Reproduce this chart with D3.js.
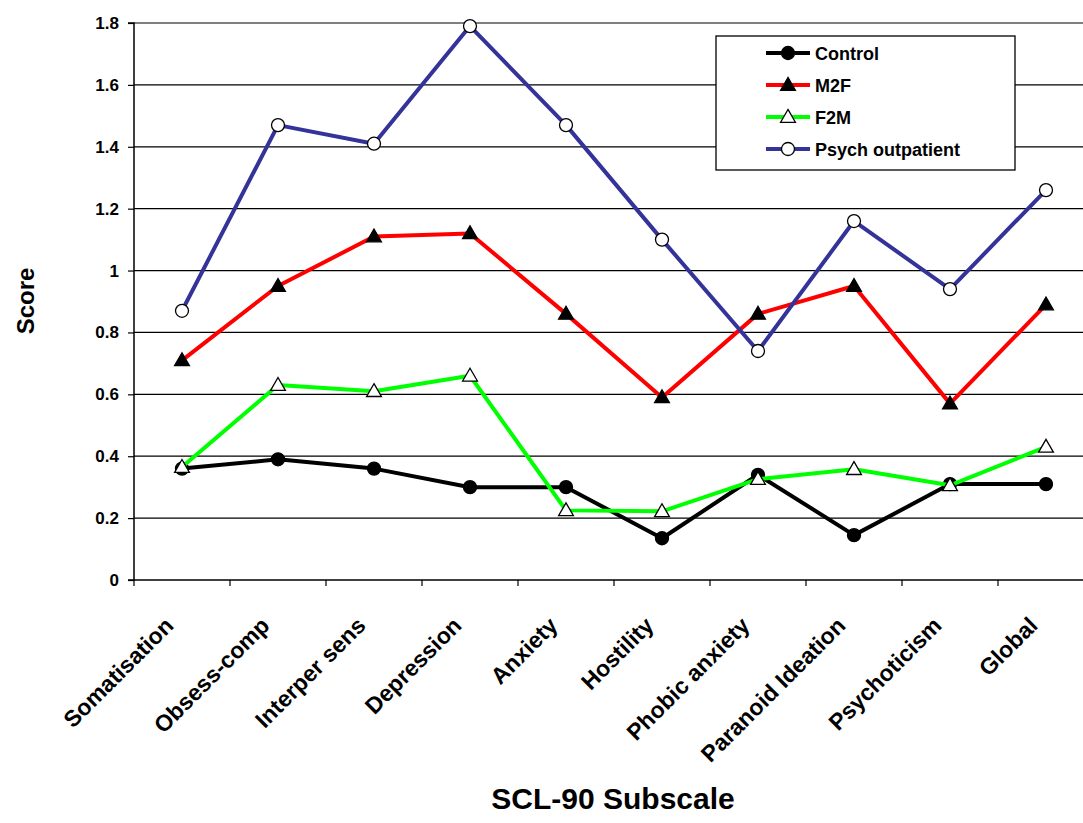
<!DOCTYPE html>
<html><head><meta charset="utf-8">
<script src="https://cdn.jsdelivr.net/npm/d3@7"></script>
<style>body{margin:0;background:#fff}svg{display:block}text{font-family:Arial,"Liberation Sans",sans-serif;font-weight:bold}</style>
</head><body><svg id="c" width="1083" height="823"></svg>
<script>
const categories = ["Somatisation","Obsess-comp","Interper sens","Depression","Anxiety","Hostility","Phobic anxiety","Paranoid Ideation","Psychoticism","Global"];
const control = [0.36,0.39,0.36,0.30,0.30,0.135,0.34,0.145,0.31,0.31];
const m2f = [0.71,0.95,1.11,1.12,0.86,0.59,0.86,0.95,0.57,0.89];
const f2m = [0.365,0.63,0.61,0.66,0.225,0.222,0.326,0.358,0.306,0.43];
const psych = [0.87,1.47,1.41,1.79,1.47,1.10,0.74,1.16,0.94,1.26];
const yTicks = [0,0.2,0.4,0.6,0.8,1,1.2,1.4,1.6,1.8];
const seriesNames = ["Control","M2F","F2M","Psych outpatient"];

const series = [
  {name:seriesNames[0], values:control, color:"#000000", marker:"circle", fill:"#000"},
  {name:seriesNames[1], values:m2f, color:"#FF0000", marker:"triangle", fill:"#000"},
  {name:seriesNames[2], values:f2m, color:"#00FF00", marker:"triangle", fill:"#fff"},
  {name:seriesNames[3], values:psych, color:"#333399", marker:"circle", fill:"#fff"}
];

const svg = d3.select("#c");
const L=134, R=1094, T=23, B=580;
const x = d3.scaleBand().domain(categories).range([L,R]).padding(0);
const y = d3.scaleLinear().domain([0,1.8]).range([B,T]);

// gridlines
svg.append("g").selectAll("line").data(yTicks.slice(1)).join("line")
  .attr("x1",L).attr("x2",R).attr("y1",d=>y(d)).attr("y2",d=>y(d))
  .attr("stroke","#000").attr("stroke-width",1.2);

// y axis
const yAxis = d3.axisLeft(y).tickValues(yTicks).tickSize(6).tickPadding(9).tickFormat(d=>d3.format("")(d));
const gy = svg.append("g").attr("transform",`translate(${L},0)`).call(yAxis);
gy.select(".domain").attr("stroke","#000").attr("stroke-width",1.5).attr("d",`M-6,${T}H0V${B}H-6`);
gy.selectAll(".tick line").attr("stroke","#000").attr("stroke-width",1.2);
gy.selectAll("text").attr("font-size",17).attr("fill","#000").style("font-weight","bold");

// x axis
const bounds = d3.range(0,categories.length+1).map(i=>L+i*x.bandwidth());
const gx = svg.append("g");
gx.append("line").attr("x1",L).attr("x2",R).attr("y1",B).attr("y2",B).attr("stroke","#000").attr("stroke-width",1.5);
gx.selectAll("line.t").data(bounds).join("line").attr("class","t")
  .attr("x1",d=>d).attr("x2",d=>d).attr("y1",B).attr("y2",B+6).attr("stroke","#000").attr("stroke-width",1.2);
gx.selectAll("text").data(categories).join("text")
  .attr("transform",d=>`translate(${x(d)+x.bandwidth()/2-7},${B+47}) rotate(-45)`)
  .attr("text-anchor","end").attr("font-size",23).attr("fill","#000").text(d=>d);

// lines
const line = d3.line().x((d,i)=>x(categories[i])+x.bandwidth()/2).y(d=>y(d));
const triangle = d3.symbol().type(d3.symbolTriangle).size(95);
function drawMarker(g, s, cx, cy){
  if(s.marker==="circle"){
    g.append("circle").attr("cx",cx).attr("cy",cy).attr("r",6.5).attr("fill",s.fill).attr("stroke","#000").attr("stroke-width",1.3);
  } else {
    g.append("path").attr("d",triangle()).attr("transform",`translate(${cx},${cy+1})`).attr("fill",s.fill).attr("stroke","#000").attr("stroke-width",1.3);
  }
}
series.forEach(s=>{
  const g = svg.append("g");
  g.append("path").datum(s.values).attr("d",line).attr("fill","none").attr("stroke",s.color).attr("stroke-width",4).attr("stroke-linejoin","round");
  s.values.forEach((v,i)=>drawMarker(g,s,x(categories[i])+x.bandwidth()/2,y(v)));
});

// legend
const lg = svg.append("g");
lg.append("rect").attr("x",716).attr("y",36).attr("width",299).attr("height",134).attr("fill","#fff").attr("stroke","#000").attr("stroke-width",1.3);
series.forEach((s,i)=>{
  const yy = 53 + i*32;
  lg.append("line").attr("x1",766).attr("x2",810).attr("y1",yy).attr("y2",yy).attr("stroke",s.color).attr("stroke-width",4);
  drawMarker(lg,s,788,yy);
  lg.append("text").attr("x",815).attr("y",yy+6.5).attr("font-size",18).attr("fill","#000").text(s.name);
});

// axis titles
svg.append("text").attr("transform","translate(34,301) rotate(-90)").attr("text-anchor","middle").attr("font-size",24).attr("fill","#000").text("Score");
svg.append("text").attr("x",613).attr("y",809).attr("text-anchor","middle").attr("font-size",30).attr("fill","#000").text("SCL-90 Subscale");
</script></body></html>
